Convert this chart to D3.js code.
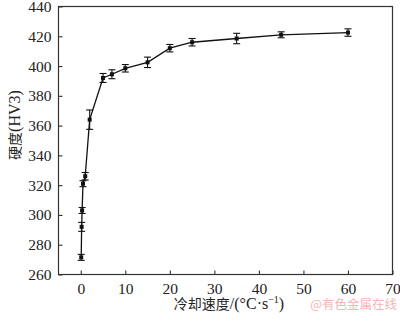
<!DOCTYPE html>
<html>
<head>
<meta charset="utf-8">
<script src="https://cdn.jsdelivr.net/npm/d3@7"></script>
<style>
  body { margin: 0; background: #fff; }
  svg { display: block; }
</style>
</head>
<body>
<svg id="chart" width="400" height="321"></svg>
<script>
"use strict";

// === Data ===
let coolingRate = [0.1, 0.2, 0.3, 0.5, 1, 2, 5, 7, 10, 15, 20, 25, 35, 45, 60];
let hardness = [271.5, 292, 303, 321, 326, 364, 392, 394.5, 398.5, 402.5, 412, 416, 418.5, 421, 422.5];
let hardnessErr = [2, 3, 2, 2, 2.5, 6.5, 3, 3, 2.5, 3.5, 2.5, 2.5, 3.5, 2, 2.5];
let xTicks = [0, 10, 20, 30, 40, 50, 60, 70];
let yTicks = [260, 280, 300, 320, 340, 360, 380, 400, 420, 440];

let points = coolingRate.map((x, i) => ({ x: x, y: hardness[i], e: hardnessErr[i] }));

// === Layout ===
let svg = d3.select("#chart");
let plotL = 58.5, plotR = 392.5, plotT = 6.5, plotB = 274.5;
let numFont = "'Liberation Serif', 'Times New Roman', serif";
let cjkFont = "'Noto Sans CJK SC', serif";

let x = d3.scaleLinear().domain([-5, 70]).range([plotL, plotR]);
let y = d3.scaleLinear().domain([260, 440]).range([plotB, plotT]);

// frame
svg.append("rect")
  .attr("x", plotL).attr("y", plotT)
  .attr("width", plotR - plotL).attr("height", plotB - plotT)
  .attr("fill", "none").attr("stroke", "#333").attr("stroke-width", 1.2);

// axes with inward ticks
let xAxis = svg.append("g")
  .attr("transform", `translate(0,${plotB})`)
  .call(d3.axisBottom(x).tickValues(xTicks).tickSizeInner(-4).tickSizeOuter(0).tickPadding(8));
let yAxis = svg.append("g")
  .attr("transform", `translate(${plotL},0)`)
  .call(d3.axisLeft(y).tickValues(yTicks).tickSizeInner(-4).tickSizeOuter(0).tickPadding(7));

[xAxis, yAxis].forEach(g => {
  g.select(".domain").remove();
  g.selectAll(".tick line").attr("stroke", "#333").attr("stroke-width", 1.1);
  g.selectAll(".tick text")
    .attr("fill", "#222")
    .style("font-family", numFont)
    .style("font-size", "15.5px");
});

// === Line ===
let line = d3.line().x(d => x(d.x)).y(d => y(d.y));
svg.append("path")
  .datum(points)
  .attr("d", line)
  .attr("fill", "none")
  .attr("stroke", "#111")
  .attr("stroke-width", 1.3);

// === Error bars ===
let bars = svg.append("g").attr("stroke", "#111").attr("stroke-width", 1.1);
points.forEach(d => {
  let cx = x(d.x), y1 = y(d.y - d.e), y2 = y(d.y + d.e);
  bars.append("line").attr("x1", cx).attr("x2", cx).attr("y1", y1).attr("y2", y2);
  bars.append("line").attr("x1", cx - 3.5).attr("x2", cx + 3.5).attr("y1", y1).attr("y2", y1);
  bars.append("line").attr("x1", cx - 3.5).attr("x2", cx + 3.5).attr("y1", y2).attr("y2", y2);
});

// === Markers ===
svg.selectAll("rect.pt")
  .data(points)
  .enter().append("rect")
  .attr("class", "pt")
  .attr("x", d => x(d.x) - 2)
  .attr("y", d => y(d.y) - 2)
  .attr("width", 4).attr("height", 4)
  .attr("fill", "#111");

// === Labels ===
let xLabel = svg.append("text")
  .attr("x", 229).attr("y", 309)
  .attr("text-anchor", "middle")
  .attr("fill", "#222")
  .style("font-size", "14px");
xLabel.append("tspan").style("font-family", cjkFont).text("冷却速度");
xLabel.append("tspan").style("font-family", numFont).style("font-size", "16px").text("/(°C·s");
xLabel.append("tspan").style("font-family", numFont).attr("dy", -6).style("font-size", "10px").text("−1");
xLabel.append("tspan").style("font-family", numFont).attr("dy", 6).style("font-size", "16px").text(")");

let yLabel = svg.append("text")
  .attr("transform", "translate(20,125) rotate(-90)")
  .attr("text-anchor", "middle")
  .attr("fill", "#222");
yLabel.append("tspan").style("font-family", cjkFont).style("font-size", "14px").text("硬度");
yLabel.append("tspan").style("font-family", numFont).style("font-size", "16px").text("(HV3)");

// watermark
svg.append("text")
  .attr("x", 397).attr("y", 309)
  .attr("text-anchor", "end")
  .style("font-family", "'Noto Sans CJK SC', sans-serif")
  .style("font-size", "12.5px")
  .attr("fill", "#f2b6b6")
  .text("@有色金属在线");
</script>
</body>
</html>
